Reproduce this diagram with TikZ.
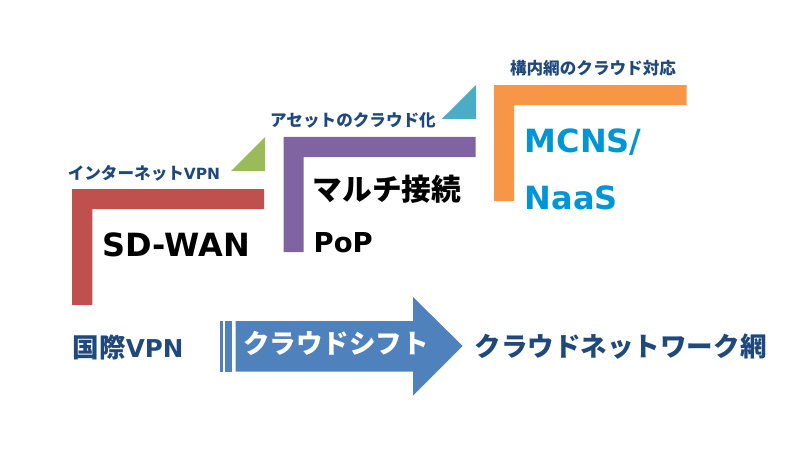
\documentclass[tikz,border=0pt]{standalone}
\usepackage{fontspec}
\newfontfamily\jpfont{Noto Sans CJK JP}
\newfontfamily\lafont{DejaVu Sans}
\definecolor{stepred}{HTML}{C0504D}
\definecolor{stepgreen}{HTML}{9BBB59}
\definecolor{steppurple}{HTML}{8064A2}
\definecolor{stepteal}{HTML}{4BACC6}
\definecolor{steporange}{HTML}{F79646}
\definecolor{shiftblue}{HTML}{4F81BD}
\definecolor{navytext}{HTML}{1F497D}
\definecolor{skytext}{HTML}{0096D6}
\tikzset{
  smalllabel/.style={color=navytext, inner sep=0cm, font=\fontsize{4.72pt}{6pt}\selectfont\bfseries},
  biglabel/.style={color=black, inner sep=0cm, anchor=west, font=\fontsize{9.1pt}{11pt}\selectfont\bfseries},
  sidelabel/.style={color=navytext, inner sep=0cm, anchor=west, font=\fontsize{7.55pt}{9pt}\selectfont\bfseries}
}
\begin{document}
\begin{tikzpicture}
\useasboundingbox (0,0) rectangle (8,4.5);

\fill[stepred] (0.72,1.45) -- (0.72,2.61) -- (2.64,2.61) -- (2.64,2.41)
-- (0.923,2.41) -- (0.923,1.45) -- cycle;
\fill[stepgreen] (2.65,3.13) -- (2.31,2.79) -- (2.65,2.79) -- cycle;

\fill[steppurple] (2.835,1.98) -- (2.835,3.13) -- (4.755,3.13) -- (4.755,2.93)
-- (3.035,2.93) -- (3.035,1.98) -- cycle;
\fill[stepteal] (4.76,3.65) -- (4.417,3.31) -- (4.76,3.31) -- cycle;

\fill[steporange] (4.94,2.49) -- (4.94,3.65) -- (6.865,3.65) -- (6.865,3.45)
-- (5.14,3.45) -- (5.14,2.49) -- cycle;

\fill[shiftblue] (2.355,0.785) -- (2.355,1.29) -- (4.13,1.29) -- (4.13,1.53)
-- (4.627,1.04) -- (4.13,0.545) -- (4.13,0.785) -- cycle;
\fill[shiftblue] (2.2,0.785) rectangle (2.23,1.29);
\fill[shiftblue] (2.25,0.785) rectangle (2.32,1.29);

\node[smalllabel] (inet) at (1.44,2.77) {{\jpfont インターネット}{\fontsize{4.4pt}{6pt}\selectfont\lafont VPN}};
\node[smalllabel] (asset) at (3.53,3.3) {{\jpfont アセットのクラウド化}};
\node[smalllabel] (campus) at (5.93,3.82) {{\jpfont 構内網のクラウド対応}};

\node[biglabel] (sdwan) at (1.02,2.05) {\lafont SD-WAN};
\node[biglabel, font=\fontsize{8.45pt}{10pt}\selectfont\bfseries] (multi) at (3.12,2.61) {\jpfont マルチ接続};
\node[biglabel, font=\fontsize{7.8pt}{10pt}\selectfont\bfseries] (pop) at (3.13,2.07) {\lafont PoP};
\node[biglabel, color=skytext] (mcns) at (5.24,3.08) {\lafont MCNS/};
\node[biglabel, color=skytext] (naas) at (5.24,2.52) {\lafont NaaS};

\node[sidelabel] (vpn) at (0.72,1.03) {{\jpfont 国際}{\fontsize{7pt}{9pt}\selectfont\lafont VPN}};
\node[sidelabel, color=white, anchor=center] (shift) at (3.36,1.07) {\jpfont クラウドシフト};
\node[sidelabel] (cloudnet) at (4.74,1.03) {\jpfont クラウドネットワーク網};
\end{tikzpicture}
\end{document}
